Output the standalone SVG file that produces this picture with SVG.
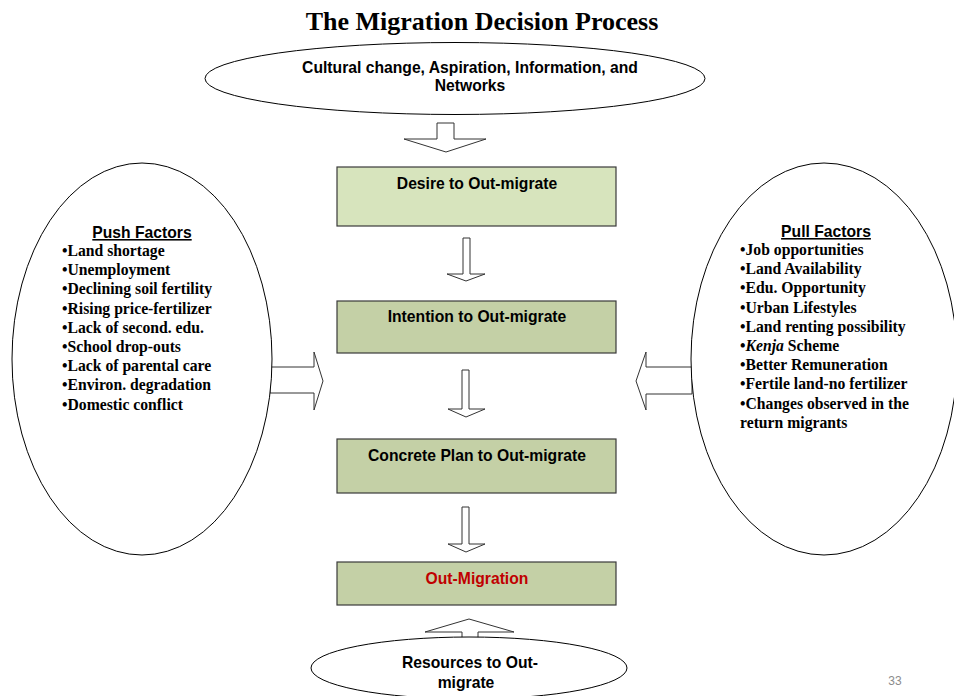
<svg xmlns="http://www.w3.org/2000/svg" width="954" height="696" viewBox="0 0 954 696">
<style>
.ol{fill:#fff;stroke:#000;stroke-width:1}
.box{stroke:#3a3a3a;stroke-width:1.2}
.arr{fill:#fff;stroke:#333;stroke-width:1}
.sans{font-family:"Liberation Sans",Arial,sans-serif;font-weight:bold;font-size:15.7px;fill:#000}
.serif{font-family:"Liberation Serif","Times New Roman",serif;font-weight:bold;font-size:15.7px;fill:#000}
.c{text-anchor:middle}
</style>
<rect width="954" height="696" fill="#fff"/>
<text x="482" y="30" class="c" style="font-family:'Liberation Serif','Times New Roman',serif;font-weight:bold;font-size:26px">The Migration Decision Process</text>

<g id="connectors">
<path class="arr" d="M437,123 H454 V139 H486 L446,152 L404,139 H437 Z"/>
<path class="arr" d="M463,238 H470 V274 H485 L466,281 L447,274 H463 Z"/>
<path class="arr" d="M462,370 H469 V409 H485 L466,417 L448,409 H462 Z"/>
<path class="arr" d="M462,507 H469 V544 H485 L466,552 L448,544 H462 Z"/>
<path class="arr" d="M462,640 V632 H425 L469,619 L514,632 H478 V640 Z"/>
<path class="arr" d="M270,367 H314 V352 L323,381 L314,410 V393 H270 Z"/>
<path class="arr" d="M692,367 H646 V352 L636,381 L646,410 V394 H692 Z"/>
</g>

<g id="top-ellipse">
<ellipse class="ol" cx="455" cy="78.5" rx="250" ry="36"/>
<text x="470" y="73" class="sans c">Cultural change, Aspiration, Information, and</text>
<text x="470" y="91" class="sans c">Networks</text>
</g>

<g id="desire">
<rect class="box" x="337" y="167" width="279" height="59" fill="#d7e4bd"/>
<text x="477" y="189" class="sans c">Desire to Out-migrate</text>
</g>
<g id="intention">
<rect class="box" x="337" y="301" width="279" height="52" fill="#c4d0a6"/>
<text x="477" y="322" class="sans c">Intention to Out-migrate</text>
</g>
<g id="concrete">
<rect class="box" x="337" y="439" width="279" height="54" fill="#c4d0a6"/>
<text x="477" y="461" class="sans c">Concrete Plan to Out-migrate</text>
</g>
<g id="outmigration">
<rect class="box" x="337" y="562" width="279" height="43" fill="#c4d0a6"/>
<text x="477" y="584" class="sans c" style="fill:#c00000">Out-Migration</text>
</g>

<g id="resources">
<ellipse class="ol" cx="469" cy="668" rx="158" ry="31"/>
<text x="470" y="668" class="sans c">Resources to Out-</text>
<text x="466" y="688" class="sans c">migrate</text>
</g>

<g id="push">
<ellipse class="ol" cx="142" cy="359" rx="130" ry="196"/>
<text x="142" y="238" class="sans c" text-decoration="underline">Push Factors</text>
<text class="serif">
<tspan x="62" y="256">•Land shortage</tspan>
<tspan x="62" y="275.2">•Unemployment</tspan>
<tspan x="62" y="294.4">•Declining soil fertility</tspan>
<tspan x="62" y="313.6">•Rising price-fertilizer</tspan>
<tspan x="62" y="332.8">•Lack of second. edu.</tspan>
<tspan x="62" y="352">•School drop-outs</tspan>
<tspan x="62" y="371.2">•Lack of parental care</tspan>
<tspan x="62" y="390.4">•Environ. degradation</tspan>
<tspan x="62" y="409.6">•Domestic conflict</tspan>
</text>
</g>

<g id="pull">
<ellipse class="ol" cx="824" cy="359" rx="133" ry="196"/>
<text x="826" y="237" class="sans c" text-decoration="underline">Pull Factors</text>
<text class="serif">
<tspan x="740" y="255">•Job opportunities</tspan>
<tspan x="740" y="274.2">•Land Availability</tspan>
<tspan x="740" y="293.4">•Edu. Opportunity</tspan>
<tspan x="740" y="312.6">•Urban Lifestyles</tspan>
<tspan x="740" y="331.8">•Land renting possibility</tspan>
<tspan x="740" y="351">•<tspan font-style="italic">Kenja</tspan> Scheme</tspan>
<tspan x="740" y="370.2">•Better Remuneration</tspan>
<tspan x="740" y="389.4">•Fertile land-no fertilizer</tspan>
<tspan x="740" y="408.6">•Changes observed in the</tspan>
<tspan x="740" y="427.8">return migrants</tspan>
</text>
</g>

<text x="895" y="685" class="c" style="font-family:'Liberation Sans',Arial,sans-serif;font-size:12px;fill:#8c8c8c">33</text>
</svg>
